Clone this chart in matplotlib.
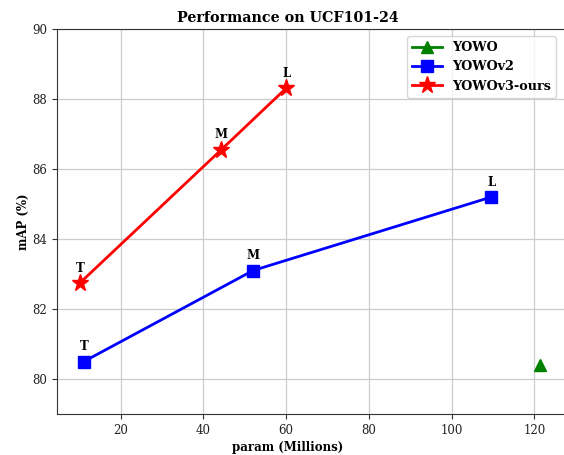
import matplotlib
matplotlib.use("Agg")
import matplotlib.pyplot as plt

plt.rcParams['font.family'] = ['DejaVu Serif']

yowo_x = [121.4]
yowo_y = [80.4]
v2_x = [11.1, 52.0, 109.6]
v2_y = [80.5, 83.1, 85.2]
v3_x = [10.1, 44.3, 60.0]
v3_y = [82.74, 86.55, 88.31]
sizes = ['T', 'M', 'L']

W, H = 564, 455
left_px, right_px, top_px, bot_px = 57, 567, 29, 414
fig = plt.figure(figsize=(W / 100, H / 100), dpi=100)
ax = fig.add_axes([left_px / W, 1 - bot_px / H, (right_px - left_px) / W, (bot_px - top_px) / H])

ax.plot(yowo_x, yowo_y, color='green', marker='^', markersize=8, linewidth=2, label='YOWO')
ax.plot(v2_x, v2_y, color='blue', marker='s', markersize=8.5, linewidth=2, label='YOWOv2')
ax.plot(v3_x, v3_y, color='red', marker='*', markersize=12.5, linewidth=2, label='YOWOv3-ours')

for x, y, s in zip(v2_x, v2_y, sizes):
    ax.annotate(s, (x, y), xytext=(0, 6), textcoords='offset points', ha='center', va='bottom',
                fontweight='bold', fontsize=8.5)
for x, y, s in zip(v3_x, v3_y, sizes):
    ax.annotate(s, (x, y), xytext=(0, 6), textcoords='offset points', ha='center', va='bottom',
                fontweight='bold', fontsize=8.5)

# pixel 563 corresponds to ~126.9 on x
xpp = (126.9 - 4.6) / (563 - 57)
ax.set_xlim(4.6, 4.6 + xpp * (right_px - left_px))
ax.set_ylim(79, 90)
ax.set_xticks([20, 40, 60, 80, 100, 120])
ax.set_yticks([80, 82, 84, 86, 88, 90])
ax.grid(True, color='#cccccc', linewidth=0.9)
ax.set_axisbelow(True)
for sp in ax.spines.values():
    sp.set_color('#333333')
cx = (288 - left_px) / (right_px - left_px)
ax.set_xlabel('param (Millions)', fontweight='bold', fontsize=8.5, labelpad=3, x=cx)
ax.set_ylabel('mAP (%)', fontweight='bold', fontsize=8.5, labelpad=2)
ax.set_title('Performance on UCF101-24', fontweight='bold', fontsize=10.3, pad=5, x=cx)
ax.tick_params(labelsize=8.5, length=3.5, color='#333333', labelcolor='#222222')
lx = (556 - left_px) / (right_px - left_px)
ly = 1 - (36 - top_px) / (bot_px - top_px)
ax.legend(loc='upper right', bbox_to_anchor=(lx, ly), borderaxespad=0,
          prop={'weight': 'bold', 'size': 9.2}, handlelength=2.3)

fig.savefig('out.png', dpi=100)
